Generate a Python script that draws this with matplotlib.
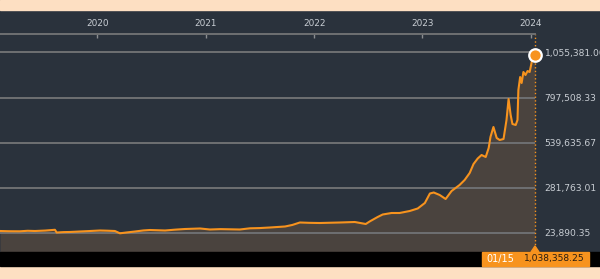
import matplotlib
matplotlib.use("Agg")
import matplotlib.pyplot as plt
from matplotlib.patches import Rectangle, Polygon
import pandas as pd

# values
dates = ["2019-02-08", "2019-03-10", "2019-04-16", "2019-05-12", "2019-06-06",
         "2019-07-10", "2019-08-12", "2019-08-18", "2019-09-10", "2019-10-01",
         "2019-11-04", "2019-12-05", "2020-01-11", "2020-02-05", "2020-03-01",
         "2020-03-18", "2020-04-10", "2020-05-08", "2020-06-05", "2020-06-27",
         "2020-08-17", "2020-09-20", "2020-10-23", "2020-12-13", "2021-01-15",
         "2021-02-20", "2021-04-26", "2021-05-30", "2021-07-01", "2021-08-05",
         "2021-09-25", "2021-10-20", "2021-11-14", "2021-12-15", "2022-01-20",
         "2022-03-29", "2022-05-18", "2022-06-24", "2022-07-07", "2022-08-03",
         "2022-08-20", "2022-09-19", "2022-10-16", "2022-11-19", "2022-12-16",
         "2023-01-09", "2023-01-26", "2023-02-08", "2023-02-28", "2023-03-20",
         "2023-04-09", "2023-05-06", "2023-05-23", "2023-06-09", "2023-06-22",
         "2023-07-06", "2023-07-19", "2023-08-02", "2023-08-12", "2023-08-18",
         "2023-08-28", "2023-09-08", "2023-09-18", "2023-10-01", "2023-10-11",
         "2023-10-18", "2023-10-25", "2023-10-31", "2023-11-11", "2023-11-17",
         "2023-11-20", "2023-11-26", "2023-12-01", "2023-12-07", "2023-12-14",
         "2023-12-21", "2023-12-28", "2024-01-04", "2024-01-08", "2024-01-15"]
values = [35300, 34000, 33600, 36500, 35300,
          37800, 42200, 26700, 29000, 29600,
          32500, 35000, 38200, 37000, 35300,
          22200, 27000, 32500, 38500, 41000,
          38200, 43000, 46700, 49600, 43900,
          46000, 43900, 50700, 52000, 55300,
          61000, 70000, 83900, 82000, 81000,
          83900, 86700, 75300, 89600, 115300,
          129600, 138200, 138200, 149600, 163900,
          195300, 249600, 255300, 241000, 218200,
          263900, 298200, 326800, 366800, 418200,
          449600, 469600, 458200, 509600, 572500,
          629600, 566800, 555400, 561100, 669600,
          789600, 698200, 646800, 641100, 669600,
          841100, 915400, 881100, 943900, 926800,
          949600, 943900, 1001100, 1055381, 1038358.25]
grid_vals = [23890.35, 281763.01, 539635.67, 797508.33, 1055381.00]
year_ticks = ["2020-01-01", "2021-01-01", "2022-01-01", "2023-01-01", "2024-01-01"]
year_labels = ["2020", "2021", "2022", "2023", "2024"]
last_label = "01/15"

x = pd.to_datetime(dates)
BG = "#2a323c"
FILL = "#4a433e"
ORANGE = "#f7931e"
PEACH = "#fddfc2"
TXT = "#c9ced4"

W, H = 600, 279
fig = plt.figure(figsize=(6, 2.79), dpi=100, facecolor=BG)

# peach bands and black strip
fig.patches.append(Rectangle((0, 1 - 10 / H), 1, 10 / H, transform=fig.transFigure,
                             color=PEACH, zorder=0))
fig.patches.append(Rectangle((0, 0), 1, 13 / H, transform=fig.transFigure,
                             color=PEACH, zorder=0))
fig.patches.append(Rectangle((0, 13 / H), 1, 14 / H, transform=fig.transFigure,
                             color="black", zorder=0))

ax = fig.add_axes([0, 27 / H, 535 / W, (252 - 34) / H])
ax.set_facecolor(BG)

ax.fill_between(x, values, -200000, color=FILL, lw=0, zorder=1)
ax.plot(x, values, color=ORANGE, lw=1.5, zorder=3)
ax.axvline(x[-1], color=ORANGE, ls=":", lw=1, zorder=2, clip_on=False)
ax.plot(x[-1], values[-1], "o", ms=9, mfc=ORANGE, mec="white", mew=1.6,
        zorder=5, clip_on=False)

ax.set_xlim(x[0], x[-1])
ax.set_ylim(-84700, 1161100)

ax.set_yticks(grid_vals)
ax.set_yticklabels(["{:,.2f}".format(v) for v in grid_vals])
ax.yaxis.tick_right()
ax.tick_params(axis="y", length=0, pad=7, labelsize=6.6, labelcolor=TXT)
ax.grid(axis="y", color="#6e7072", lw=1.4, zorder=1.5)

ax.xaxis.tick_top()
ax.set_xticks(pd.to_datetime(year_ticks))
ax.set_xticklabels(year_labels)
ax.tick_params(axis="x", direction="in", length=3, width=1, color="#8a8d90",
               pad=4, labelsize=6.4, labelcolor=TXT)

for s in ["left", "right", "bottom"]:
    ax.spines[s].set_visible(False)
ax.spines["top"].set_color("#6e7072")
ax.spines["top"].set_linewidth(1.4)

# last value box
fig.patches.append(Rectangle((482 / W, 13 / H), 107 / W, 14 / H,
                             transform=fig.transFigure, color=ORANGE, zorder=4))
fig.patches.append(Polygon([(531 / W, 27 / H), (539 / W, 27 / H), (535 / W, 33 / H)],
                           closed=True, transform=fig.transFigure, color=ORANGE, zorder=4))
fig.text(486 / W, 20 / H, last_label, color="white", fontsize=7, va="center",
         ha="left", zorder=6)
fig.text(585 / W, 20 / H, "{:,.2f}".format(values[-1]), color="#2a1d10",
         fontsize=6.6, va="center", ha="right", zorder=6)

fig.savefig("out.png", dpi=100, facecolor=BG)
